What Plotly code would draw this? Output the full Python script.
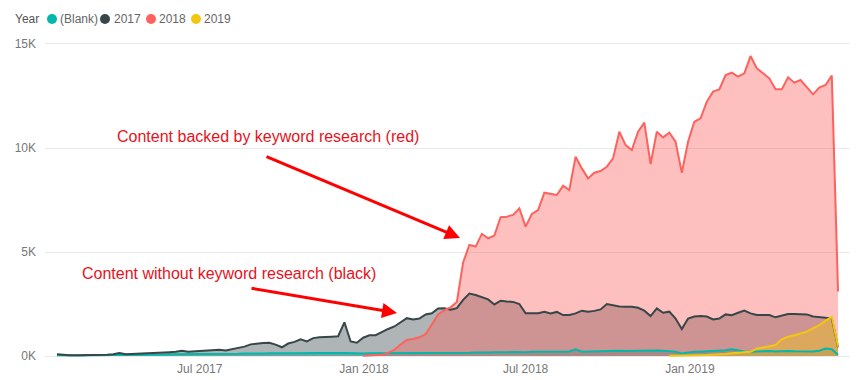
import plotly.graph_objects as go
import pandas as pd

# ---------------- data (weekly page views by year of publication) ----------------
start_week = "2017-01-22"
n_weeks = 126
weeks = pd.date_range(start_week, periods=n_weeks, freq="7D")

series_names = ["(Blank)", "2017", "2018", "2019"]

blank_values = [
    40, 30, 30, 30, 30, 40, 40, 40, 50, 50,
    50, 50, 60, 60, 60, 70, 70, 70, 80, 80,
    80, 90, 90, 100, 90, 100, 100, 110, 100, 110,
    120, 110, 120, 120, 130, 120, 120, 130, 130, 140,
    130, 130, 140, 140, 130, 140, 150, 130, 110, 120,
    130, 130, 140, 140, 130, 140, 140, 150, 140, 150,
    150, 140, 150, 150, 160, 150, 160, 170, 160, 170,
    180, 170, 180, 190, 180, 180, 200, 190, 200, 210,
    200, 210, 220, 320, 210, 220, 230, 240, 230, 240,
    250, 240, 250, 260, 250, 260, 270, 250, 230, 200,
    120, 170, 210, 200, 220, 220, 250, 280, 320, 270,
    220, 210, 220, 260, 240, 220, 240, 240, 230, 220,
    240, 220, 250, 360, 330, 60,
]

values_2017 = [
    80, 50, 40, 40, 40, 50, 50, 60, 60, 80,
    140, 80, 90, 100, 110, 120, 140, 160, 180, 200,
    250, 200, 220, 240, 230, 260, 300, 270, 330, 400,
    450, 560, 600, 630, 640, 550, 420, 600, 680, 800,
    700, 860, 900, 930, 930, 950, 1620, 700, 640, 880,
    1000, 1000, 1170, 1300, 1420, 1600, 1820, 1760, 1800, 2000,
    2050, 2280, 2300, 2220, 2300, 2700, 3000, 2930, 2820, 2720,
    2480, 2660, 2620, 2600, 2500, 2050, 2050, 2060, 2130, 2050,
    2120, 1970, 1970, 2050, 2180, 2130, 2170, 2240, 2500, 2440,
    2380, 2370, 2370, 2320, 2180, 1920, 2290, 2080, 2130, 1800,
    1300, 1800, 1900, 1920, 1900, 1760, 1800, 2000, 1960, 2080,
    2180, 2050, 1970, 1970, 1970, 1860, 1940, 2020, 2020, 2010,
    2000, 1900, 1880, 1860, 1810, 420,
]

first_week_2018 = 49
values_2018 = [
    10, 20, 30, 60, 150, 300, 550, 770, 820, 900,
    1050, 1500, 2000, 2200, 2340, 2600, 4500, 5340, 5260, 5870,
    5660, 5790, 6670, 6700, 6780, 7100, 6220, 6830, 7020, 7850,
    7800, 7740, 8190, 7980, 9580, 9020, 8540, 8810, 8890, 9100,
    9500, 10780, 10140, 9900, 10780, 11220, 9230, 10780, 10510, 10740,
    10300, 8810, 10300, 11260, 11430, 12230, 12710, 12820, 13510, 13620,
    13430, 13590, 14420, 13830, 13590, 13350, 12820, 12820, 13400, 13140,
    13270, 12920, 12580, 12900, 13030, 13480, 3100,
]

first_week_2019 = 98
values_2019 = [
    10, 10, 20, 20, 30, 40, 50, 60, 80, 100,
    130, 150, 180, 200, 350, 420, 460, 530, 800, 930,
    1000, 1100, 1170, 1330, 1490, 1700, 1880, 450,
]

y_tick_values = [0, 5000, 10000, 15000]
y_tick_labels = ["0K", "5K", "10K", "15K"]
x_tick_dates = ["2017-07-01", "2018-01-01", "2018-07-01", "2019-01-01"]

# ---------------- style ----------------
colors = ["#01B8AA", "#374649", "#FD625E", "#F2C80F"]
fill_alpha = 0.4


def rgba(hex_color, a):
    h = hex_color.lstrip("#")
    r, g, b = int(h[0:2], 16), int(h[2:4], 16), int(h[4:6], 16)
    return f"rgba({r},{g},{b},{a})"


series = [
    (weeks, blank_values),
    (weeks, values_2017),
    (weeks[first_week_2018:first_week_2018 + len(values_2018)], values_2018),
    (weeks[first_week_2019:first_week_2019 + len(values_2019)], values_2019),
]

fig = go.Figure()
# fills first
for (x, y), name, c in zip(series, series_names, colors):
    fig.add_trace(go.Scatter(
        x=x, y=y, name=name, mode="lines", fill="tozeroy",
        fillcolor=rgba(c, fill_alpha), line=dict(width=0, color=c),
        showlegend=False, hoverinfo="skip",
    ))
# lines on top
for (x, y), name, c in zip(series, series_names, colors):
    fig.add_trace(go.Scatter(
        x=x, y=y, name=name, mode="lines",
        line=dict(width=2, color=c), showlegend=False,
    ))

# plot-area geometry (pixels)
PL, PR, PT, PB = 45, 850, 40, 360
W, H = 857, 380


def px_x(px):
    return (px - PL) / (PR - PL)


def px_y(py):
    return (PB - py) / (PB - PT)


pad_days = pd.Timedelta(days=13.4)
x_range = [weeks[0] - pad_days, weeks[-1] + pad_days]

fig.update_layout(
    width=W, height=H,
    margin=dict(l=PL, r=W - PR, t=PT, b=H - PB),
    paper_bgcolor="white", plot_bgcolor="white",
    showlegend=False,
    font=dict(family="Liberation Sans, Arial, sans-serif", color="#777777", size=12),
)
fig.update_xaxes(
    range=x_range, showgrid=False, zeroline=False, showline=False, ticks="",
    tickvals=x_tick_dates, tickformat="%b %Y", automargin=False,
    ticklabelstandoff=0,
    tickfont=dict(size=12, color="#777777"),
)
fig.update_yaxes(
    range=[-192, 15192], tickvals=y_tick_values, ticktext=y_tick_labels,
    showgrid=True, gridcolor="#E9E9E9", gridwidth=1, zeroline=False,
    showline=False, ticks="", ticklabelstandoff=8, automargin=False,
    tickfont=dict(size=12, color="#777777"),
)

# ---------------- legend built from text + circles ----------------
legend_y = 19
annotations = [dict(
    text="Year", x=px_x(13), y=px_y(legend_y), xref="paper", yref="paper",
    xanchor="left", yanchor="middle", showarrow=False,
    font=dict(size=12, color="#555555"),
)]
shapes = []
legend_items = [(52, 59), (105, 113), (151, 158), (196, 203)]
for (cx, tx), name, c in zip(legend_items, series_names, colors):
    shapes.append(dict(
        type="circle", xref="paper", yref="paper",
        xsizemode="pixel", ysizemode="pixel",
        xanchor=px_x(cx), yanchor=px_y(legend_y),
        x0=-5, x1=5, y0=-5, y1=5, fillcolor=c, line=dict(width=0),
    ))
    annotations.append(dict(
        text=name, x=px_x(tx - 1), y=px_y(legend_y), xref="paper", yref="paper",
        xanchor="left", yanchor="middle", showarrow=False,
        font=dict(size=12, color="#666666"),
    ))

# ---------------- call-outs ----------------
note_red = "#E8121C"


def arrow(tip, tail):
    return dict(text="", x=px_x(tip[0]), y=px_y(tip[1]), xref="paper", yref="paper",
                ax=tail[0] - tip[0], ay=tail[1] - tip[1], axref="pixel", ayref="pixel",
                showarrow=True, arrowhead=2, arrowsize=1, arrowwidth=3,
                arrowcolor="#FF0000")


annotations += [
    dict(text="Content backed by keyword research (red)", x=px_x(115), y=px_y(136),
         xref="paper", yref="paper", xanchor="left", yanchor="middle",
         showarrow=False, font=dict(size=16, color=note_red)),
    dict(text="Content without keyword research (black)", x=px_x(80), y=px_y(273),
         xref="paper", yref="paper", xanchor="left", yanchor="middle",
         showarrow=False, font=dict(size=16, color=note_red)),
    arrow((460, 238), (265, 156)),
    arrow((397, 313), (250, 288)),
]

fig.update_layout(annotations=annotations, shapes=shapes)
fig.write_html(
    "out.html",
    config={"displayModeBar": False},
    post_script="document.body.style.margin='0px';",
)
